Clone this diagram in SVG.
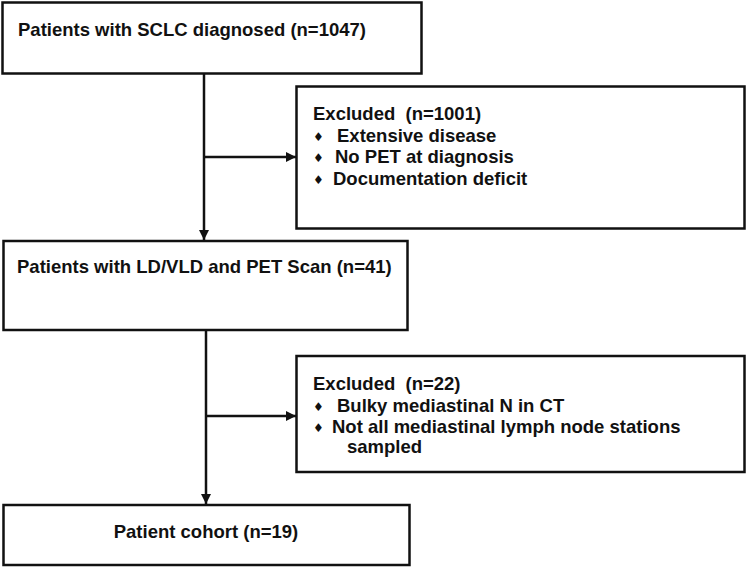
<svg xmlns="http://www.w3.org/2000/svg" width="750" height="573" viewBox="0 0 750 573">
  <defs>
    <style>
      .box { fill: #fff; stroke: #111; stroke-width: 2.5; }
      .t { font-family: "Liberation Sans", Arial, sans-serif; font-size: 18.5px; font-weight: bold; fill: #111; white-space: pre; }
      .b { font-family: "DejaVu Sans", sans-serif; font-size: 12px; fill: #111; }
      .c { fill: none; stroke: #111; stroke-width: 2.5; }
    </style>
    <marker id="ah" markerWidth="10" markerHeight="10" viewBox="0 0 10 10" refX="10" refY="5" orient="auto" markerUnits="userSpaceOnUse">
      <path d="M0,0 L10,5 L0,10 Z" fill="#111"/>
    </marker>
  </defs>
  <rect width="750" height="573" fill="#fff"/>

  <g id="connectors">
    <line class="c" x1="204" y1="74" x2="204" y2="240" marker-end="url(#ah)"/>
    <line class="c" x1="204" y1="157" x2="296" y2="157" marker-end="url(#ah)"/>
    <line class="c" x1="206" y1="330" x2="206" y2="504" marker-end="url(#ah)"/>
    <line class="c" x1="206" y1="416" x2="296" y2="416" marker-end="url(#ah)"/>
  </g>

  <g id="n1">
    <rect class="box" x="2.5" y="2.5" width="419" height="71"/>
    <text class="t" x="18" y="36">Patients with SCLC diagnosed (n=1047)</text>
  </g>

  <g id="ex1">
    <rect class="box" x="296.5" y="86.5" width="448" height="142"/>
    <text class="t" x="313" y="120" xml:space="preserve">Excluded  (n=1001)</text>
    <text class="b" x="313" y="141">♦</text>
    <text class="t" x="337" y="142">Extensive disease</text>
    <text class="b" x="313" y="162">♦</text>
    <text class="t" x="335" y="163">No PET at diagnosis</text>
    <text class="b" x="313" y="184">♦</text>
    <text class="t" x="333" y="185">Documentation deficit</text>
  </g>

  <g id="n2">
    <rect class="box" x="3.5" y="241" width="404" height="89"/>
    <text class="t" x="17" y="273">Patients with LD/VLD and PET Scan (n=41)</text>
  </g>

  <g id="ex2">
    <rect class="box" x="296.5" y="356" width="448" height="116"/>
    <text class="t" x="313" y="390" xml:space="preserve">Excluded  (n=22)</text>
    <text class="b" x="313" y="411">♦</text>
    <text class="t" x="337" y="412">Bulky mediastinal N in CT</text>
    <text class="b" x="313" y="432">♦</text>
    <text class="t" x="332" y="433">Not all mediastinal lymph node stations</text>
    <text class="t" x="347" y="453">sampled</text>
  </g>

  <g id="n3">
    <rect class="box" x="3.5" y="505" width="406" height="60"/>
    <text class="t" x="206" y="538" text-anchor="middle">Patient cohort (n=19)</text>
  </g>
</svg>
